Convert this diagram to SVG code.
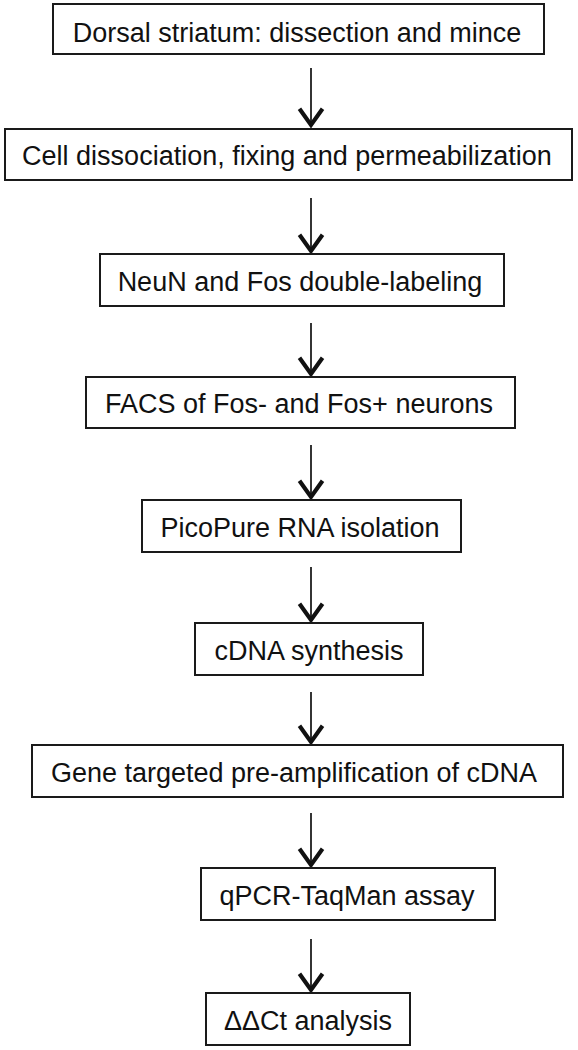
<svg xmlns="http://www.w3.org/2000/svg" width="578" height="1050" viewBox="0 0 578 1050">
<style>
.box{fill:#fff;stroke:#1a1a1a;stroke-width:2}
.lbl{font-family:"Liberation Sans",Arial,sans-serif;font-size:27px;fill:#111;text-anchor:middle}
.ln{stroke:#111;stroke-width:1.7;fill:none}
</style>
<defs>
<marker id="ah" markerUnits="userSpaceOnUse" markerWidth="30" markerHeight="30" viewBox="-18 -13 20 26" refX="0" refY="0" orient="auto">
<path d="M-15,-10 L-1,0 L-15,10" fill="none" stroke="#111" stroke-width="3.6" stroke-linejoin="miter" stroke-miterlimit="10"/>
</marker>
</defs>
<rect width="578" height="1050" fill="#fff"/>
<g id="connectors">
<line class="ln" x1="311" y1="68" x2="311" y2="126" marker-end="url(#ah)"/>
<line class="ln" x1="311" y1="198" x2="311" y2="252" marker-end="url(#ah)"/>
<line class="ln" x1="311" y1="323" x2="311" y2="375" marker-end="url(#ah)"/>
<line class="ln" x1="311" y1="445" x2="311" y2="498" marker-end="url(#ah)"/>
<line class="ln" x1="311" y1="567" x2="311" y2="621" marker-end="url(#ah)"/>
<line class="ln" x1="311" y1="692" x2="311" y2="743" marker-end="url(#ah)"/>
<line class="ln" x1="311" y1="813" x2="311" y2="866" marker-end="url(#ah)"/>
<line class="ln" x1="311" y1="939" x2="311" y2="991" marker-end="url(#ah)"/>
</g>
<g id="n1"><rect class="box" x="53" y="4" width="491" height="50"/><text class="lbl" x="297" y="42">Dorsal striatum: dissection and mince</text></g>
<g id="n2"><rect class="box" x="5" y="129" width="567" height="51"/><text class="lbl" x="287" y="165">Cell dissociation, fixing and permeabilization</text></g>
<g id="n3"><rect class="box" x="100" y="254" width="404" height="52"/><text class="lbl" x="300" y="291">NeuN and Fos double-labeling</text></g>
<g id="n4"><rect class="box" x="86" y="377" width="429" height="51"/><text class="lbl" x="299" y="413">FACS of Fos- and Fos+ neurons</text></g>
<g id="n5"><rect class="box" x="142" y="500" width="319" height="52"/><text class="lbl" x="300" y="537">PicoPure RNA isolation</text></g>
<g id="n6"><rect class="box" x="195" y="623" width="228" height="52"/><text class="lbl" x="309" y="660">cDNA synthesis</text></g>
<g id="n7"><rect class="box" x="32" y="745" width="531" height="52"/><text class="lbl" x="294" y="782">Gene targeted pre-amplification of cDNA</text></g>
<g id="n8"><rect class="box" x="201" y="868" width="294" height="52"/><text class="lbl" x="347" y="905">qPCR-TaqMan assay</text></g>
<g id="n9"><rect class="box" x="206" y="993" width="204" height="52"/><text class="lbl" x="308" y="1030">ΔΔCt analysis</text></g>
</svg>
